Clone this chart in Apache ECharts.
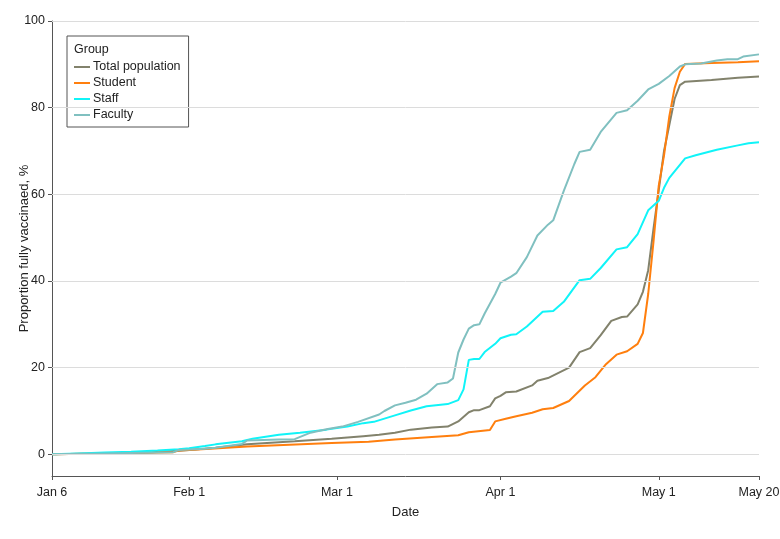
<!DOCTYPE html>
<html>
<head>
<meta charset="utf-8">
<script src="https://cdn.jsdelivr.net/npm/echarts@6/dist/echarts.min.js"></script>
<style>
  html, body { margin: 0; padding: 0; background: #fff; }
  #chart { width: 780px; height: 539px; }
</style>
</head>
<body>
<div id="chart"></div>
<script>
// days counted from Jan 6
const tickDays = [0, 26, 54, 85, 115, 134];
const tickLabels = ["Jan 6", "Feb 1", "Mar 1", "Apr 1", "May 1", "May 20"];
const yTicks = [0, 20, 40, 60, 80, 100];
const groupNames = ["Total population", "Student", "Staff", "Faculty"];

const totalPop = [[0,0],[9,0.2],[19,0.5],[24,0.8],[26,1.0],[31,1.5],[37,2.3],[46,3.0],[53,3.6],[59,4.2],[62,4.5],[65,5.0],[68,5.7],[72,6.2],[75,6.4],[77,7.6],[79,9.7],[80,10.2],[81,10.2],[83,11.1],[84,12.9],[85,13.5],[86,14.3],[88,14.5],[91,15.9],[92,17.0],[94,17.6],[98,20.0],[100,23.6],[102,24.5],[104,27.5],[106,30.8],[108,31.7],[109,31.8],[111,34.6],[112,37.5],[113,42.5],[114,52],[115,61],[116,70],[117,76],[118,82],[119,85.2],[120,86.0],[125,86.4],[130,86.9],[134,87.2]];

const student = [[0,0],[10,0.2],[20,0.4],[23,0.5],[24,0.9],[26,1.0],[30,1.3],[37,1.8],[45,2.2],[53,2.6],[60,2.9],[65,3.4],[72,4.0],[77,4.4],[79,5.1],[83,5.6],[84,7.6],[86,8.2],[88,8.8],[91,9.6],[93,10.4],[95,10.7],[98,12.3],[101,15.9],[103,17.8],[105,20.8],[107,23.0],[109,23.8],[111,25.5],[112,28],[113,37],[114,49],[115,62],[116,69],[117,78],[118,84.5],[119,88.3],[120,90.1],[125,90.3],[130,90.5],[134,90.7]];

const staff = [[0,0],[5,0.2],[10,0.4],[15,0.6],[20,0.9],[24,1.2],[26,1.4],[29,1.9],[31,2.3],[36,3.0],[38,3.6],[43,4.5],[47,5.0],[52,5.7],[56,6.4],[59,7.2],[61,7.5],[65,9.0],[68,10.1],[71,11.1],[75,11.6],[77,12.5],[78,15.0],[79,21.8],[80,22.0],[81,22.0],[82,23.6],[84,25.5],[85,26.8],[87,27.6],[88,27.7],[90,29.5],[93,32.9],[95,33.1],[97,35.2],[100,40.2],[102,40.5],[104,43.0],[107,47.3],[109,47.8],[111,50.8],[113,56.3],[115,58.5],[116,61.5],[117,63.8],[120,68.3],[122,69.0],[126,70.3],[130,71.3],[132,71.8],[134,72.0]];

const faculty = [[0,0],[10,0.2],[20,0.4],[23,0.5],[24,1.0],[26,1.1],[29,1.3],[31,1.5],[36,2.4],[37,3.2],[43,3.4],[46,3.5],[49,5.0],[52,5.8],[55,6.4],[58,7.5],[62,9.2],[63,10.0],[65,11.3],[67,11.9],[69,12.6],[71,14.0],[73,16.2],[75,16.6],[76,17.5],[77,23.5],[78,26.5],[79,29.0],[80,29.8],[81,30.0],[82,32.5],[84,37.0],[85,39.6],[87,41.0],[88,41.8],[90,45.5],[92,50.5],[94,53.0],[95,54.0],[97,60.8],[99,67.0],[100,69.8],[102,70.3],[104,74.4],[107,78.8],[109,79.4],[111,81.6],[113,84.2],[115,85.5],[117,87.3],[119,89.5],[120,90.0],[123,90.2],[126,90.9],[128,91.2],[130,91.2],[131,91.8],[134,92.3]];

const colors = ["#82826c", "#ff7f0e", "#10f4f8", "#80c0c0"];
const font = "Liberation Sans";

const chart = echarts.init(document.getElementById("chart"));

function line(name, data, color) {
    return {
        name: name,
        type: "line",
        data: data,
        symbol: "none",
        lineStyle: { width: 2, color: color },
        itemStyle: { color: color },
        z: 3
    };
}

chart.setOption({
    animation: false,
    textStyle: { fontFamily: font },
    grid: { left: 52, right: 21, top: 21, bottom: 63, outerBoundsMode: "none", containLabel: false },
    legend: {
        data: groupNames,
        orient: "vertical",
        left: 67,
        top: 36,
        padding: [24, 8, 5, 7],
        itemGap: 2,
        itemWidth: 16,
        itemHeight: 2,
        icon: "path://M0,0 L16,0 L16,2 L0,2 Z",
        backgroundColor: "#fff",
        borderColor: "#555",
        borderWidth: 1,
        textStyle: { fontFamily: font, fontSize: 12.5, lineHeight: 14, color: "#222", padding: [0, 0, 0, -2] }
    },
    graphic: [{
        type: "text",
        left: 74,
        top: 43,
        z: 100,
        style: { text: "Group", font: "12.5px " + font, fill: "#222" }
    }],
    xAxis: {
        type: "value",
        min: 0,
        max: 134,
        name: "Date",
        nameLocation: "middle",
        nameGap: 30,
        nameMoveOverlap: false,
        nameTextStyle: { fontSize: 13, color: "#222" },
        axisLine: { onZero: false, lineStyle: { color: "#555" } },
        axisTick: { length: 4, lineStyle: { color: "#555" }, customValues: tickDays },
        axisLabel: {
            fontSize: 12.5,
            color: "#222",
            margin: 10,
            customValues: tickDays,
            formatter: v => tickLabels[tickDays.indexOf(v)]
        },
        splitLine: { show: false }
    },
    yAxis: {
        type: "value",
        min: -5,
        max: 100,
        name: "Proportion fully vaccinaed, %",
        nameLocation: "middle",
        nameGap: 21,
        nameMoveOverlap: false,
        nameTextStyle: { fontSize: 13, color: "#222" },
        axisLine: { show: true, onZero: false, lineStyle: { color: "#555" } },
        axisTick: { show: true, length: 4, lineStyle: { color: "#555" }, customValues: yTicks },
        axisLabel: { fontSize: 12.5, color: "#222", margin: 7, customValues: yTicks },
        splitLine: { show: false }
    },
    series: [
        {
            type: "line",
            data: [],
            silent: true,
            z: 1,
            markLine: {
                silent: true,
                symbol: "none",
                label: { show: false },
                lineStyle: { color: "#dcdcdc", type: "solid", width: 1 },
                data: yTicks.map(v => ({ yAxis: v }))
            }
        },
        line(groupNames[0], totalPop, colors[0]),
        line(groupNames[1], student, colors[1]),
        line(groupNames[2], staff, colors[2]),
        line(groupNames[3], faculty, colors[3])
    ]
});
</script>
</body>
</html>
